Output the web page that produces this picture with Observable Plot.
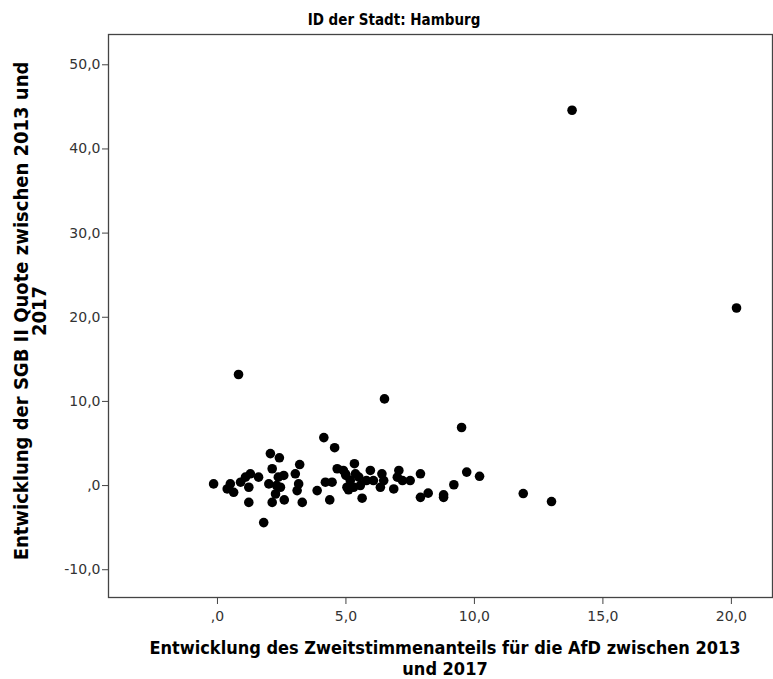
<!DOCTYPE html>
<html>
<head>
<meta charset="utf-8">
<script src="https://cdn.jsdelivr.net/npm/d3@7"></script>
<script src="https://cdn.jsdelivr.net/npm/@observablehq/plot@0.6"></script>
<style>
  html, body { margin: 0; padding: 0; background: #fff; }
  #chart { width: 773px; height: 679px; overflow: hidden; }
</style>
</head>
<body>
<div id="chart"></div>
<script>
// AfD second-vote share change (x) vs SGB II rate change (y), Hamburg districts
const afdChange = [
  -0.15, 0.5, 0.38, 0.63, 0.9, 1.09, 1.28, 1.22, 1.6, 1.22,
  1.8, 2.0, 2.13, 2.26, 2.13, 2.37, 2.3, 2.06, 2.41, 3.2,
  2.58, 2.45, 2.6, 3.03, 3.16, 3.1, 3.3, 3.88, 4.2, 4.46,
  4.37, 4.66, 4.56, 4.14, 4.98, 5.04, 5.33, 4.9, 5.0, 5.17,
  5.37, 5.5, 5.3, 5.1, 5.56, 5.63, 5.95, 5.8, 6.07, 6.4,
  6.47, 6.34, 6.86, 7.06, 7.0, 7.2, 7.5, 7.9, 7.9, 8.2,
  8.8, 8.8, 9.2, 9.7, 10.2, 11.9, 13.0, 9.5, 6.5, 0.82,
  13.8, 20.2
];
const sgbChange = [
  0.2, 0.2, -0.4, -0.8, 0.4, 1.0, 1.4, -0.2, 1.0, -2.0,
  -4.4, 0.2, 2.0, -1.0, -2.0, 1.0, 0.0, 3.8, 3.3, 2.5,
  1.2, -0.2, -1.7, 1.4, 0.2, -0.6, -2.0, -0.6, 0.4, 0.4,
  -1.7, 2.0, 4.5, 5.7, 1.4, -0.2, 2.6, 1.8, 1.2, 0.6,
  1.4, 1.0, -0.2, -0.5, 0.0, -1.5, 1.8, 0.6, 0.6, 1.4,
  0.6, -0.2, -0.4, 1.8, 1.0, 0.6, 0.6, 1.4, -1.4, -0.9,
  -1.1, -1.4, 0.1, 1.6, 1.1, -0.95, -1.9, 6.9, 10.3, 13.2,
  44.6, 21.1
];
const xTicks = [0, 5, 10, 15, 20];
const yTicks = [-10, 0, 10, 20, 30, 40, 50];

const chartTitle = "ID der Stadt: Hamburg";
const xTitle = ["Entwicklung des Zweitstimmenanteils für die AfD zwischen 2013", "und 2017"];
const yTitle = ["Entwicklung der SGB II Quote zwischen 2013 und", "2017"];

const points = afdChange.map((x, i) => ({x, y: sgbChange[i]}));

const locale = d3.formatLocale({decimal: ",", thousands: ".", grouping: [3], currency: ["", "€"], minus: "-"});
const f1 = locale.format(".1f");
const fmt = v => f1(v).replace(/^(-?)0,/, "$1,");

const titleFont = `"Liberation Sans Narrow", "DejaVu Sans Condensed", "Roboto Condensed", "DejaVu Sans", sans-serif`;

const plot = Plot.plot({
  width: 773,
  height: 679,
  marginTop: 34,
  marginLeft: 108,
  marginRight: 1,
  marginBottom: 82,
  style: {fontFamily: `"DejaVu Sans", sans-serif`, fontSize: "14px", color: "#333", background: "#fff"},
  x: {domain: [-4.24, 21.6]},
  y: {domain: [-13.3, 53.6]},
  marks: [
    Plot.frame({stroke: "#444", strokeWidth: 1.3}),
    Plot.axisX({ticks: xTicks, tickFormat: fmt, tickSize: 7, tickPadding: 7, label: null, stroke: "#444", fill: "#333"}),
    Plot.axisY({ticks: yTicks, tickFormat: fmt, tickSize: 6, tickPadding: 2, label: null, stroke: "#444", fill: "#333"}),
    Plot.dot(points, {x: "x", y: "y", r: 4.8, fill: "#000", stroke: "none"})
  ]
});

document.getElementById("chart").appendChild(plot);

const svg = d3.select(plot);
svg.append("text")
  .attr("x", 394).attr("y", 25)
  .attr("text-anchor", "middle")
  .style("font-family", titleFont).style("font-weight", "bold").style("font-size", "15px").style("fill", "#000")
  .text(chartTitle);

const xt = svg.append("text")
  .attr("text-anchor", "middle")
  .style("font-family", titleFont).style("font-weight", "bold").style("font-size", "18px").style("fill", "#000");
xt.append("tspan").attr("x", 445).attr("y", 654).text(xTitle[0]);
xt.append("tspan").attr("x", 445).attr("y", 675).text(xTitle[1]);

const yt = svg.append("text")
  .attr("text-anchor", "middle")
  .attr("transform", "translate(0,311) rotate(-90)")
  .style("font-family", titleFont).style("font-weight", "bold").style("font-size", "20px").style("fill", "#000");
yt.append("tspan").attr("x", 0).attr("y", 28).text(yTitle[0]);
yt.append("tspan").attr("x", 0).attr("y", 46).text(yTitle[1]);
</script>
</body>
</html>
